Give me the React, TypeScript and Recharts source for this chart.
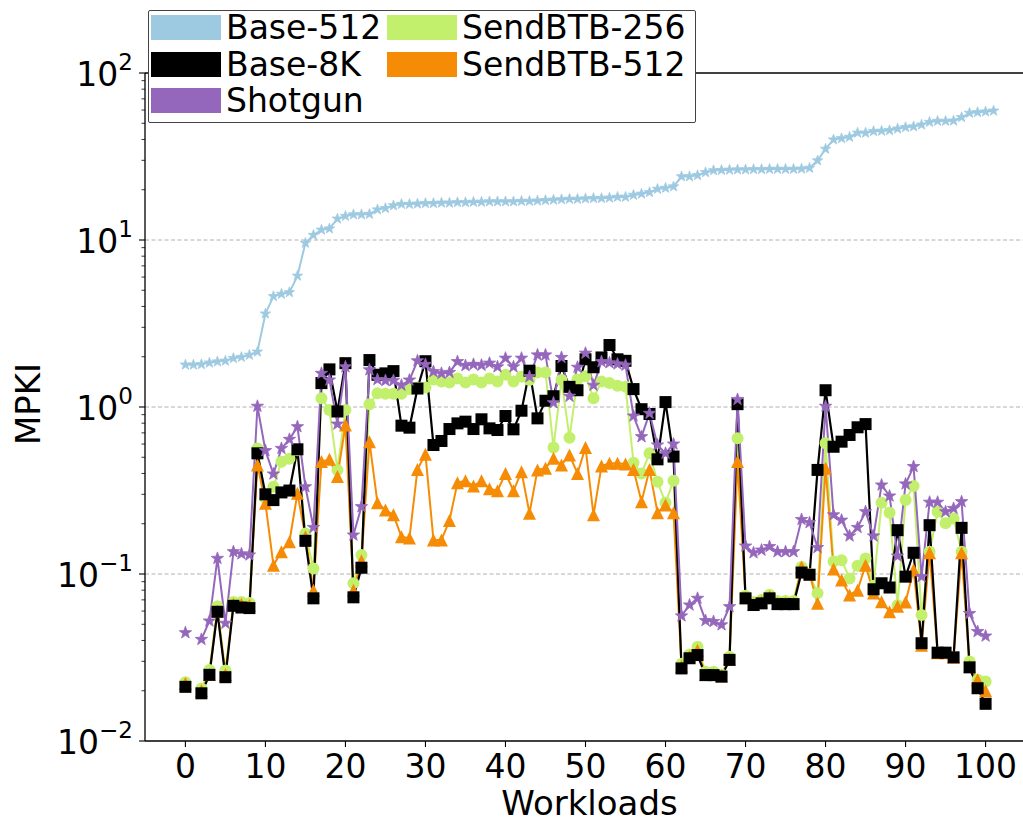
import React from 'react';
import { LineChart, Line, XAxis, YAxis, ReferenceLine, Legend } from 'recharts';

// MPKI per workload. null = value not drawn on the log axis.
const base512 = [
  1.79, 1.79, 1.8, 1.84, 1.87, 1.89, 1.96, 1.99, 2.05, 2.14,
  3.62, 4.6, 4.75, 4.86, 6.1, 9.6, 10.7, 11.5, 11.7, 13.4,
  13.9, 14.2, 14.2, 14.3, 15.2, 15.5, 16.1, 16.4, 16.4, 16.5,
  16.6, 16.6, 16.7, 16.7, 16.8, 16.8, 16.9, 16.9, 17.0, 17.0,
  17.0, 17.0, 17.1, 17.1, 17.2, 17.3, 17.4, 17.5, 17.6, 17.6,
  17.7, 17.8, 17.8, 17.9, 18.1, 18.1, 18.6, 18.9, 19.3, 20.2,
  20.5, 20.9, 24.0, 24.0, 24.4, 25.4, 26.1, 26.2, 26.3, 26.4,
  26.4, 26.5, 26.5, 26.6, 26.6, 26.6, 26.6, 26.7, 27.0, 29.9,
  35.1, 39.9, 40.6, 41.4, 43.8, 43.8, 44.8, 45.0, 45.4, 46.4,
  47.3, 47.8, 49.0, 50.8, 51.6, 51.6, 51.8, 54.3, 57.6, 58.2,
  58.7, 59.4,
];

const base8k = [
  0.0211, null, 0.0193, 0.0249, 0.0594, 0.0241, 0.0645, 0.063, 0.0625, 0.528,
  0.3, 0.277, 0.308, 0.316, 0.558, 0.158, 0.0715, 1.39, 1.68, 0.94,
  1.83, 0.0725, 0.109, 1.91, 1.56, 1.59, 1.64, 0.773, 0.752, 1.29,
  1.88, 0.592, 0.626, 0.738, 0.798, 0.817, 0.738, 0.844, 0.745, 0.728,
  0.883, 0.735, 0.95, 1.65, 0.855, 1.09, 1.16, 1.76, 1.32, 1.26,
  1.93, 1.73, 1.98, 2.35, 1.93, 1.89, 1.28, 0.97, 0.908, 0.486,
  1.07, 0.505, 0.0272, 0.0313, 0.0327, 0.0248, 0.0248, 0.0243, 0.0306, 1.04,
  0.0715, 0.0652, 0.0667, 0.0715, 0.066, 0.066, 0.066, 0.102, 0.099, 0.42,
  1.26, 0.578, 0.62, 0.68, 0.756, 0.79, 0.081, 0.088, 0.083, 0.183,
  0.0964, 0.134, 0.0385, 0.196, 0.0338, 0.0338, 0.0317, 0.189, 0.0276, 0.0207,
  0.0167,
];

const shotgun = [
  0.0445, null, 0.0406, 0.0523, 0.124, 0.0507, 0.136, 0.132, 0.13, 1.01,
  0.548, 0.397, 0.565, 0.64, 0.762, 0.333, 0.19, 1.59, 1.45, 0.79,
  1.74, 0.171, 0.253, 1.67, 1.46, 1.44, 1.44, 1.35, 1.45, 1.89,
  1.8, 1.63, 1.59, 1.61, 1.87, 1.77, 1.8, 1.78, 1.83, 1.74,
  1.96, 1.74, 1.96, 1.52, 2.05, 2.05, 1.06, 1.98, 1.16, 1.73,
  2.1, 1.35, 1.87, 1.84, 1.81, 1.78, 0.883, 0.664, 0.916, 0.592,
  0.528, 0.6, 0.0561, 0.0652, 0.0715, 0.0526, 0.0519, 0.0496, 0.0637, 1.11,
  0.147, 0.134, 0.139, 0.146, 0.136, 0.136, 0.136, 0.212, 0.203, 0.144,
  1.01, 0.226, 0.21, 0.169, 0.19, 0.236, 0.169, 0.341, 0.293, 0.128,
  0.346, 0.44, 0.0964, 0.269, 0.269, 0.236, 0.247, 0.271, 0.058, 0.0452,
  0.0425,
];

const sendBtb256 = [
  0.0225, null, 0.0206, 0.0266, 0.064, 0.0264, 0.068, 0.068, 0.067, 0.565,
  0.284, 0.333, 0.47, 0.49, 0.55, 0.175, 0.108, 1.13, 0.96, 0.42,
  0.96, 0.088, 0.13, 1.04, 1.21, 1.2, 1.2, 1.2, 1.28, 1.31,
  1.31, 1.46, 1.42, 1.4, 1.48, 1.4, 1.46, 1.4, 1.48, 1.42,
  1.56, 1.42, 1.52, 1.45, 1.61, 1.61, 0.573, 1.45, 0.655, 1.46,
  1.53, 1.13, 1.42, 1.39, 1.34, 1.32, 0.464, 0.4, 0.528, 0.357,
  0.267, 0.362, 0.029, 0.033, 0.0367, 0.026, 0.026, 0.025, 0.032, 0.65,
  0.074, 0.068, 0.07, 0.075, 0.069, 0.069, 0.069, 0.11, 0.1, 0.0766,
  0.606, 0.119, 0.121, 0.094, 0.112, 0.124, 0.085, 0.267, 0.233, 0.065,
  0.277, 0.336, 0.0569, 0.136, 0.236, 0.201, 0.215, 0.136, 0.0299, 0.0233,
  0.0227,
];

const sendBtb512 = [
  0.0222, null, 0.02, 0.025, 0.06, 0.025, 0.066, 0.066, 0.065, 0.45,
  0.265, 0.113, 0.136, 0.156, 0.304, 0.167, 0.08, 0.471, 0.486, 0.383,
  0.78, 0.08, 0.12, 0.62, 0.267, 0.242, 0.226, 0.167, 0.164, 0.423,
  0.521, 0.16, 0.16, 0.209, 0.352, 0.362, 0.336, 0.362, 0.324, 0.315,
  0.4, 0.315, 0.41, 0.231, 0.42, 0.43, 0.493, 0.45, 0.516, 0.4,
  0.573, 0.226, 0.443, 0.46, 0.46, 0.456, 0.423, 0.271, 0.423, 0.233,
  0.259, 0.233, 0.028, 0.032, 0.035, 0.025, 0.025, 0.0245, 0.031, 0.471,
  0.072, 0.066, 0.068, 0.073, 0.067, 0.067, 0.067, 0.11, 0.1, 0.0667,
  0.43, 0.107, 0.092, 0.0749, 0.08, 0.113, 0.077, 0.0683, 0.0595, 0.064,
  0.068, 0.106, 0.0375, 0.134, 0.0338, 0.0338, 0.0317, 0.134, 0.028, 0.0233,
  0.02,
];

const xTicks = [0, 10, 20, 30, 40, 50, 60, 70, 80, 90, 100];
const yMajor = [0.01, 0.1, 1, 10, 100];
const yGrid = [0.1, 1, 10];

// log minor ticks (2..9 per decade)
const yTicks: number[] = [];
yMajor.forEach((m, i) => {
  yTicks.push(m);
  if (i < yMajor.length - 1) for (let k = 2; k <= 9; k++) yTicks.push(+(m * k).toPrecision(3));
});

const data = base512.map((v, i) => ({
  x: i,
  base512: v,
  base8k: base8k[i] ?? null,
  shotgun: shotgun[i] ?? null,
  sendBtb256: sendBtb256[i] ?? null,
  sendBtb512: sendBtb512[i] ?? null,
}));

const FONT = 'DejaVu Sans';
const PLOT_LEFT = 145;

type Shape = 'star' | 'square' | 'circle' | 'triangle';

const series: { key: string; name: string; color: string; shape: Shape; size: number; width: number }[] = [
  { key: 'base512', name: 'Base-512', color: '#9ecae1', shape: 'star', size: 5.5, width: 2 },
  { key: 'sendBtb256', name: 'SendBTB-256', color: '#c3f06c', shape: 'circle', size: 6, width: 2 },
  { key: 'sendBtb512', name: 'SendBTB-512', color: '#f68c05', shape: 'triangle', size: 6.5, width: 2 },
  { key: 'base8k', name: 'Base-8K', color: '#000000', shape: 'square', size: 6, width: 2.2 },
  { key: 'shotgun', name: 'Shotgun', color: '#9467bd', shape: 'star', size: 6.5, width: 2 },
];

const legendOrder = ['base512', 'base8k', 'shotgun', 'sendBtb256', 'sendBtb512'];

function starPoints(cx: number, cy: number, R: number) {
  const r = R * 0.4;
  const pts: string[] = [];
  for (let k = 0; k < 10; k++) {
    const a = (-90 + k * 36) * (Math.PI / 180);
    const rad = k % 2 === 0 ? R : r;
    pts.push(`${cx + rad * Math.cos(a)},${cy + rad * Math.sin(a)}`);
  }
  return pts.join(' ');
}

function makeDot(shape: Shape, color: string, s: number) {
  return (props: any) => {
    const { cx, cy, value, index } = props;
    if (value == null || cx == null || cy == null || isNaN(cy)) return <g key={index} />;
    if (shape === 'square')
      return <rect key={index} x={cx - s} y={cy - s} width={2 * s} height={2 * s} fill={color} />;
    if (shape === 'circle') return <circle key={index} cx={cx} cy={cy} r={s} fill={color} />;
    if (shape === 'triangle')
      return (
        <polygon key={index} points={`${cx},${cy - s} ${cx - s},${cy + s} ${cx + s},${cy + s}`} fill={color} />
      );
    return <polygon key={index} points={starPoints(cx, cy, s)} fill={color} stroke={color} strokeWidth={0.8} />;
  };
}

function YTick(props: any) {
  const { y, payload } = props;
  const v = payload.value;
  const lg = Math.log10(v);
  const exp = Math.round(lg);
  const major = Math.abs(lg - exp) < 1e-6;
  return (
    <g>
      <line x1={PLOT_LEFT - (major ? 6 : 3.5)} x2={PLOT_LEFT} y1={y} y2={y} stroke="#000" strokeWidth={major ? 1.1 : 0.8} />
      {major && (
        <text x={PLOT_LEFT - 12} y={y + 13} textAnchor="end" fontSize={33} fontFamily={FONT} fill="#000">
          10
          <tspan dy={-16} fontSize={23}>
            {exp < 0 ? '\u2212' + -exp : String(exp)}
          </tspan>
        </text>
      )}
    </g>
  );
}

function XTick(props: any) {
  const { x, y, payload } = props;
  return (
    <text x={x} y={y + 29} textAnchor="middle" fontSize={33} fontFamily={FONT} fill="#000">
      {payload.value}
    </text>
  );
}

function LegendBox() {
  return (
    <div
      style={{
        position: 'relative',
        width: 548,
        height: 113,
        boxSizing: 'border-box',
        border: '1.5px solid #444',
        borderRadius: 2,
        background: '#fff',
        fontFamily: FONT,
        fontSize: 33,
        color: '#000',
      }}
    >
      {legendOrder.map((k, i) => {
        const s = series.find((d) => d.key === k)!;
        const col = i < 3 ? 0 : 1;
        const row = i < 3 ? i : i - 3;
        return (
          <div key={k} style={{ position: 'absolute', left: 2 + col * 236, top: 4 + row * 36.5, display: 'flex', alignItems: 'center', whiteSpace: 'nowrap' }}>
            <span style={{ display: 'inline-block', width: 70, height: 25, background: s.color }} />
            <span style={{ marginLeft: 5, lineHeight: '25px' }}>{s.name}</span>
          </div>
        );
      })}
    </div>
  );
}

export default function App() {
  return (
    <div style={{ position: 'absolute', left: 0, top: 0, width: 1023, height: 822, overflow: 'hidden', background: '#fff' }}>
      <LineChart width={1045} height={822} data={data} margin={{ top: 73, right: 11, bottom: 0, left: 0 }}>
        <XAxis
          dataKey="x"
          type="number"
          domain={[-5.05, 106.05]}
          allowDataOverflow
          ticks={xTicks}
          interval={0}
          height={81}
          tick={<XTick />}
          tickSize={6}
          tickLine={{ stroke: '#000', strokeWidth: 1.1 }}
          axisLine={{ stroke: '#000', strokeWidth: 1.3 }}
          label={(p: any) => {
            const vb = p.viewBox || { x: 145, width: 889 };
            return (
              <text x={vb.x + vb.width / 2} y={815} textAnchor="middle" fontSize={34} fontFamily={FONT} fill="#000">
                Workloads
              </text>
            );
          }}
        />
        <YAxis
          type="number"
          scale="log"
          domain={[0.01, 100]}
          allowDataOverflow
          ticks={yTicks}
          interval={0}
          width={145}
          tick={<YTick />}
          tickLine={false}
          axisLine={{ stroke: '#000', strokeWidth: 1.3 }}
          label={() => (
            <text x={40} y={404} transform="rotate(-90, 40, 404)" textAnchor="middle" fontSize={34} fontFamily={FONT} fill="#000">
              MPKI
            </text>
          )}
        />
        {yGrid.map((g) => (
          <ReferenceLine key={g} y={g} stroke="#b0b0b0" strokeWidth={1} strokeDasharray="4 2.5" />
        ))}
        <ReferenceLine y={100} stroke="#000" strokeWidth={1.3} ifOverflow="visible" />
        {series.map((s) => (
          <Line
            key={s.key}
            dataKey={s.key}
            name={s.name}
            stroke={s.color}
            strokeWidth={s.width}
            dot={makeDot(s.shape, s.color, s.size)}
            activeDot={false}
            connectNulls={false}
            isAnimationActive={false}
          />
        ))}
        <Legend
          layout="horizontal"
          verticalAlign="middle"
          align="center"
          content={() => <LegendBox />}
          wrapperStyle={{ left: 148, top: 10, width: 548, height: 113 }}
        />
      </LineChart>
    </div>
  );
}
